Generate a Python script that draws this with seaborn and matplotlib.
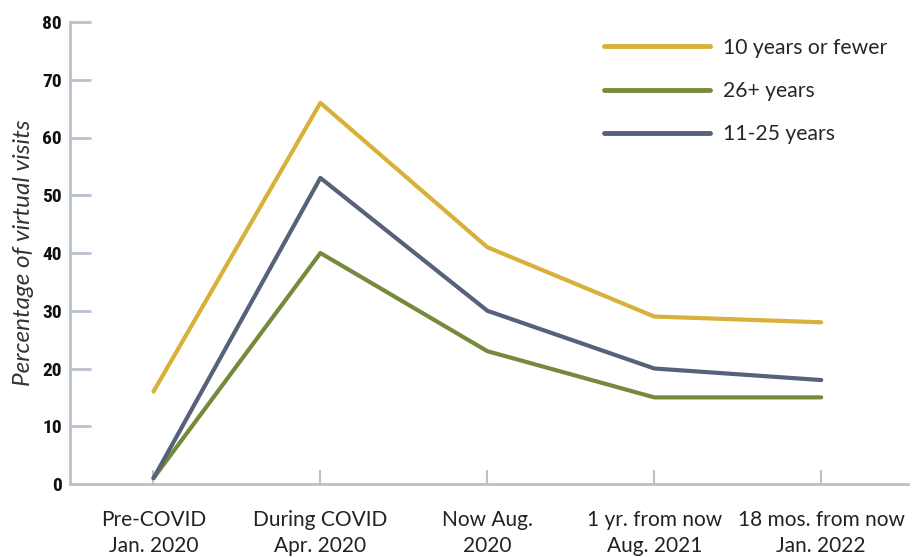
import pandas as pd
import matplotlib.pyplot as plt
import seaborn as sns
from matplotlib.lines import Line2D

# ----------------------------------------------------------
# DATA
# ----------------------------------------------------------
periods = ["Pre-COVID\nJan. 2020", "During COVID\nApr. 2020", "Now Aug.\n2020",
           "1 yr. from now\nAug. 2021", "18 mos. from now\nJan. 2022"]
groups = ["10 years or fewer", "26+ years", "11-25 years"]
fewer_10 = [16, 66, 41, 29, 28]
over_26 = [1, 40, 23, 15, 15]
mid_11_25 = [1, 53, 30, 20, 18]
colors = ["#d8b13a", "#768a3c", "#55627a"]

y_ticks = [0, 10, 20, 30, 40, 50, 60, 70, 80]

# ----------------------------------------------------------
# BUILD LONG TABLE
# ----------------------------------------------------------
rows = []
for g, vals in zip(groups, [fewer_10, over_26, mid_11_25]):
    for i, v in enumerate(vals):
        rows.append({"period": i, "group": g, "value": v})
df = pd.DataFrame(rows)

sns.set_style("white")
plt.rcParams["font.family"] = ["Lato", "DejaVu Sans"]
narrow = ["Roboto Condensed", "Liberation Sans Narrow", "Roboto", "DejaVu Sans"]

fig = plt.figure(figsize=(9.2, 5.57), dpi=100)
ax = fig.add_axes([70 / 920, (557 - 484) / 557, (908 - 70) / 920, (484 - 22) / 557])

sns.lineplot(data=df, x="period", y="value", hue="group", hue_order=groups,
             palette=colors, linewidth=3, ax=ax, legend=False,
             solid_capstyle="round")

axis_col = "#b9c1cd"
ax.set_xlim(-0.5, 4.52)
ax.set_ylim(0, 80)
for side in ["top", "right"]:
    ax.spines[side].set_visible(False)
for side in ["left", "bottom"]:
    ax.spines[side].set_color(axis_col)
    ax.spines[side].set_linewidth(2)

ax.set_yticks(y_ticks)
ax.set_yticklabels([str(t) for t in y_ticks], fontweight="bold",
                   family=narrow, fontsize=14, color="#111111")
ax.tick_params(axis="y", direction="in", length=15, width=2, color=axis_col,
               pad=6, left=True)

ax.set_xticks(range(len(periods)))
ax.set_xticklabels(periods, fontsize=15, color="#222222", linespacing=1.35)
ax.tick_params(axis="x", direction="in", length=10, width=1.5, color=axis_col,
               pad=19, bottom=True)

ax.set_xlabel("")
ax.set_ylabel("Percentage of virtual visits", fontsize=17.5, fontstyle="italic",
              color="#333333", labelpad=6)

# legend
handles = [Line2D([0], [0], color=c, lw=3.5, solid_capstyle="round") for c in colors]
ax.legend(handles, groups, loc="upper left", bbox_to_anchor=(0.615, 1.007),
          frameon=False, fontsize=15.2, handlelength=5.0, handletextpad=0.6,
          labelspacing=1.1)

fig.savefig("out.png", dpi=100)
